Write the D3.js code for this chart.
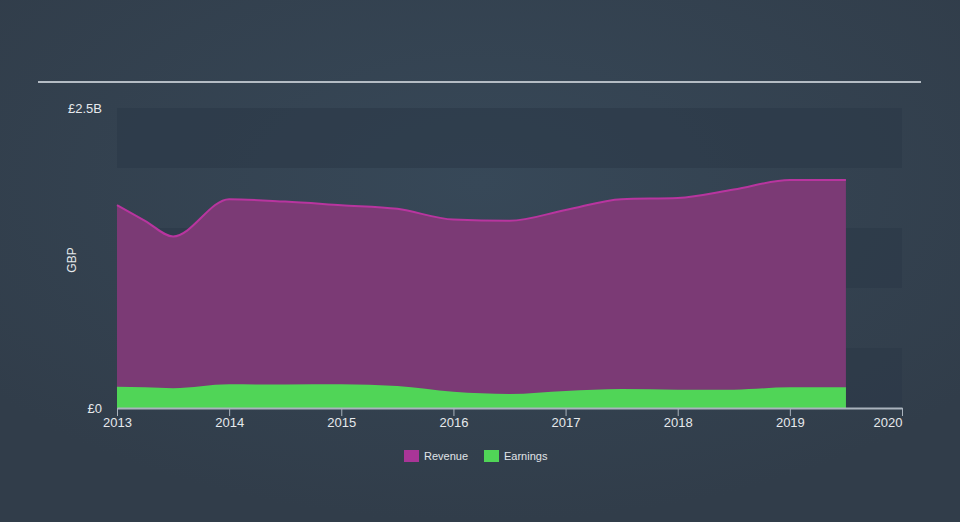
<!DOCTYPE html>
<html><head><meta charset="utf-8">
<script src="https://cdn.jsdelivr.net/npm/d3@7"></script>
<style>html,body{margin:0;padding:0;background:#333f4d;}svg{display:block;}</style>
</head><body>
<svg id="c" width="960" height="522"></svg>
<script>
const years = [2013.0,2013.25,2013.5,2014.0,2014.5,2015.0,2015.5,2016.0,2016.5,2017.0,2017.5,2018.0,2018.5,2019.0,2019.5];
const revenue = [1.69,1.56,1.43,1.74,1.72,1.69,1.66,1.57,1.56,1.65,1.74,1.75,1.82,1.90,1.90];
const earnings = [0.178,0.172,0.165,0.198,0.195,0.197,0.184,0.135,0.117,0.142,0.158,0.153,0.153,0.172,0.172];
const xTicks = [2013,2014,2015,2016,2017,2018,2019,2020];
const yTickLabels = ["£0","£2.5B"];
const seriesNames = ["Revenue","Earnings"];

const svg = d3.select("#c");
const W=960,H=522;
const defs = svg.append("defs");
const rg = defs.append("radialGradient").attr("id","bg").attr("cx","50%").attr("cy","35%").attr("r","65%");
rg.append("stop").attr("offset","0%").attr("stop-color","#374858");
rg.append("stop").attr("offset","100%").attr("stop-color","#313d4a");
svg.append("rect").attr("width",W).attr("height",H).attr("fill","url(#bg)");

const x = d3.scaleLinear().domain([2013,2020]).range([117,902]);
const y = d3.scaleLinear().domain([0,2.5]).range([408,108]);

// top rule
svg.append("line").attr("x1",38).attr("x2",921).attr("y1",82).attr("y2",82)
  .attr("stroke","#b4bcc4").attr("stroke-width",2);

// bands
const bandEdges = d3.range(0,2.5,0.5);
bandEdges.forEach((b,i)=>{
  if(i%2===0){
    svg.append("rect").attr("x",x(2013)).attr("width",x(2020)-x(2013))
      .attr("y",y(b+0.5)).attr("height",y(b)-y(b+0.5))
      .attr("fill","#2c3947").attr("opacity",0.6);
  }
});

const revData = years.map((t,i)=>({t,v:revenue[i]}));
const earnData = years.map((t,i)=>({t,v:earnings[i]}));
const curve = d3.curveMonotoneX;
const area = d3.area().x(d=>x(d.t)).y0(y(0)).y1(d=>y(d.v)).curve(curve);
const line = d3.line().x(d=>x(d.t)).y(d=>y(d.v)).curve(curve);

svg.append("path").datum(revData).attr("d",area).attr("fill","#7b3a75");
svg.append("path").datum(revData).attr("d",line).attr("fill","none").attr("stroke","#b8359f").attr("stroke-width",2);
svg.append("path").datum(earnData).attr("d",area).attr("fill","#50d557");

// x axis
const ax = svg.append("g").attr("transform",`translate(0,${y(0)})`)
  .call(d3.axisBottom(x).tickValues(xTicks).tickFormat(d3.format("d")).tickSize(8).tickSizeOuter(0));
ax.select(".domain").attr("stroke","#aab3bd").attr("stroke-width",2);
ax.selectAll(".tick line").attr("stroke","#aab3bd");
ax.selectAll(".tick text").attr("fill","#e6e9ec").attr("font-size",13)
  .attr("font-family","Liberation Sans, Arial, sans-serif").attr("dy","0.65em");
ax.selectAll(".tick text").filter(d=>d===2020).attr("text-anchor","end").attr("dx","0");

// y labels
svg.selectAll(".ylab").data([0,2.5]).enter().append("text")
  .attr("x",102).attr("y",d=>y(d)).attr("dy","0.35em").attr("text-anchor","end")
  .attr("fill","#e6e9ec").attr("font-size",13).attr("font-family","Liberation Sans, Arial, sans-serif")
  .text((d,i)=>yTickLabels[i]);

svg.append("text").attr("transform","translate(76,260) rotate(-90)").attr("text-anchor","middle")
  .attr("fill","#e6e9ec").attr("font-size",12).attr("font-family","Liberation Sans, Arial, sans-serif").text("GBP");

// legend
const legColors = ["#a93597","#50d557"];
const legX = [404,484];
seriesNames.forEach((n,i)=>{
  svg.append("rect").attr("x",legX[i]).attr("y",450).attr("width",15).attr("height",12).attr("fill",legColors[i]);
  svg.append("text").attr("x",legX[i]+20).attr("y",460).attr("fill","#e0e4e8").attr("font-size",11)
    .attr("font-family","Liberation Sans, Arial, sans-serif").text(n);
});
</script>
</body></html>
